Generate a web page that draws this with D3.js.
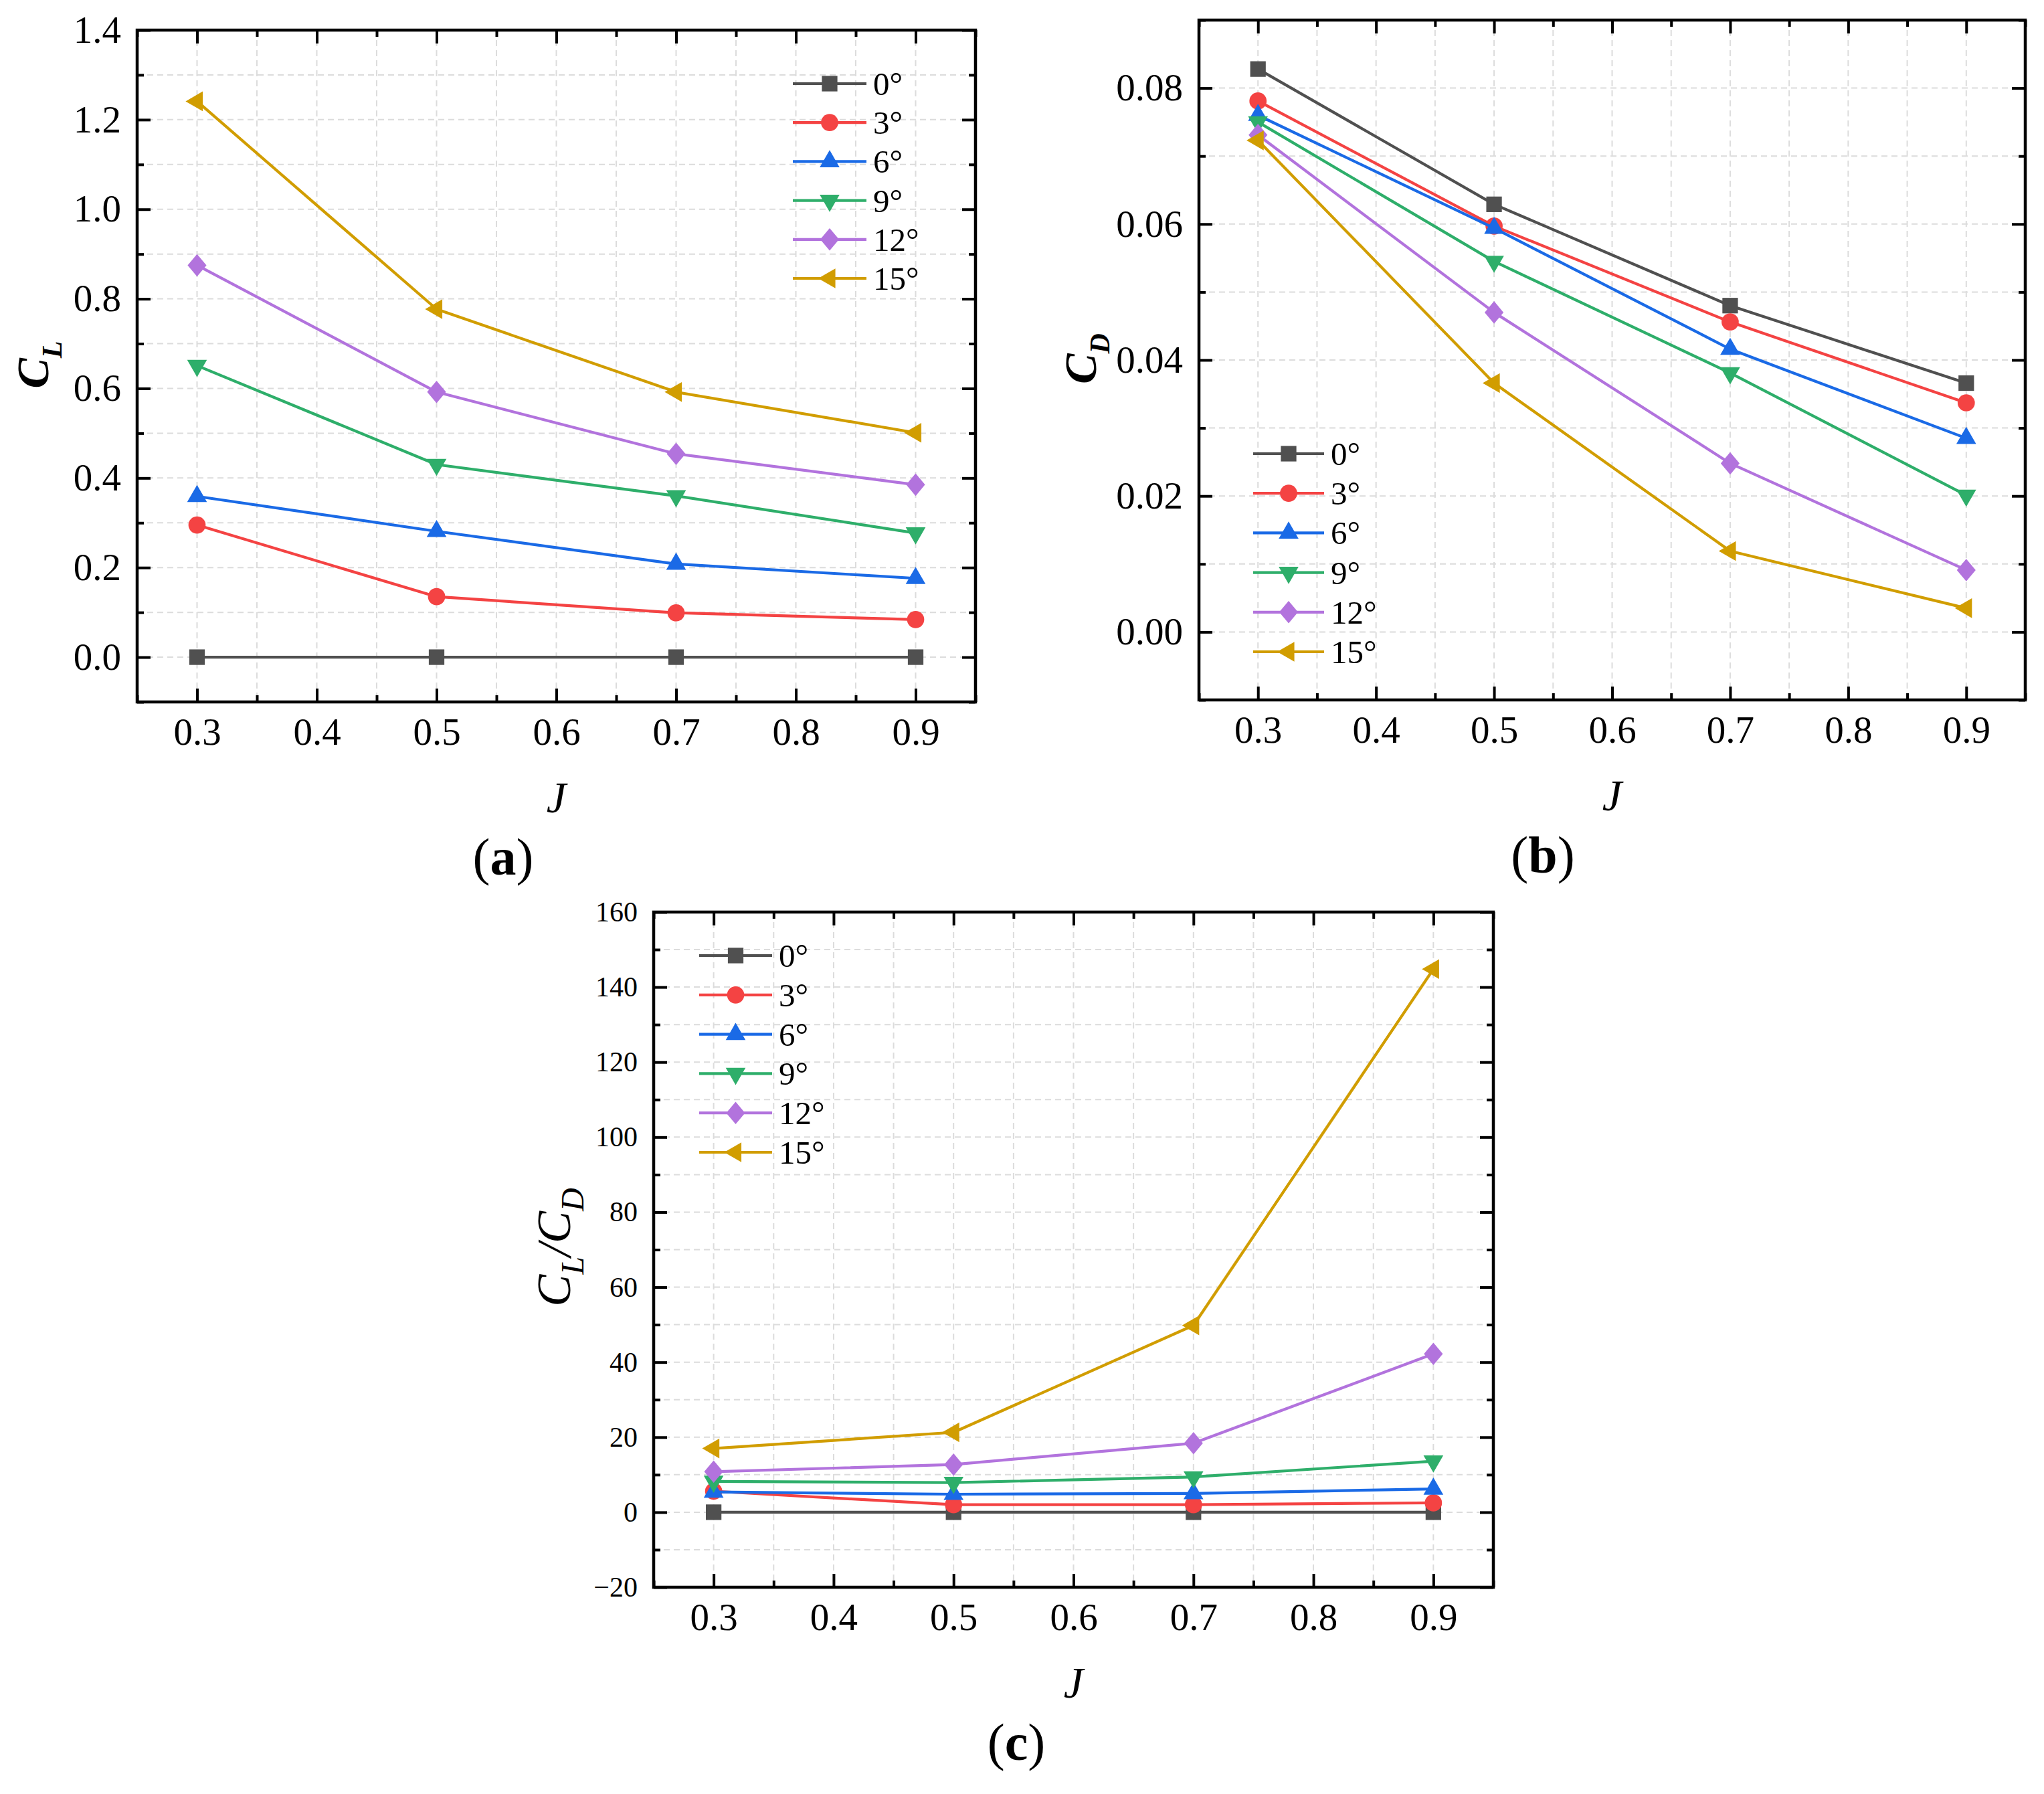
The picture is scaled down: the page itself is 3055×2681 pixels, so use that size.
<!DOCTYPE html>
<html><head><meta charset="utf-8">
<script src="https://cdn.jsdelivr.net/npm/d3@7"></script>
<style>html,body{margin:0;padding:0;background:#fff}</style>
</head><body>
<svg id="fig" width="3055" height="2681" xmlns="http://www.w3.org/2000/svg"></svg>
<script>
// ---------------- data ----------------
const J = [0.3, 0.5, 0.7, 0.9];
const angleLabels = ["0°", "3°", "6°", "9°", "12°", "15°"];
const seriesColors = ["#505050", "#F44343", "#1A6AE6", "#2EAE6A", "#B273DD", "#D19D00"];
const markerTypes = ["square", "circle", "triangleUp", "triangleDown", "diamond", "triangleLeft"];

// (a) lift coefficient C_L
const CL = [
  [0, 0, 0, 0],
  [0.295, 0.135, 0.099, 0.084],
  [0.359, 0.281, 0.208, 0.176],
  [0.651, 0.430, 0.360, 0.277],
  [0.875, 0.592, 0.454, 0.385],
  [1.241, 0.777, 0.592, 0.501]
];
// (b) drag coefficient C_D
const CD = [
  [0.0828, 0.0629, 0.0480, 0.0366],
  [0.0781, 0.0597, 0.0456, 0.0337],
  [0.0760, 0.0594, 0.0416, 0.0285],
  [0.0750, 0.0545, 0.0381, 0.0201],
  [0.0731, 0.0470, 0.0248, 0.0091],
  [0.0723, 0.0366, 0.0119, 0.0035]
];
// (c) lift-to-drag ratio C_L/C_D
const CLCD = [
  [0, 0, 0, 0],
  [5.6, 2.0, 2.0, 2.5],
  [5.4, 4.8, 5.0, 6.2],
  [8.2, 7.9, 9.4, 13.6],
  [10.8, 12.7, 18.4, 42.2],
  [17.0, 21.3, 49.8, 144.8]
];

const xMajorTicks = [0.3, 0.4, 0.5, 0.6, 0.7, 0.8, 0.9];
const xMinorTicks = [0.25, 0.35, 0.45, 0.55, 0.65, 0.75, 0.85, 0.95];
const clMajorTicks = [0.0, 0.2, 0.4, 0.6, 0.8, 1.0, 1.2, 1.4];
const clMinorTicks = [-0.1, 0.1, 0.3, 0.5, 0.7, 0.9, 1.1, 1.3];
const cdMajorTicks = [0.00, 0.02, 0.04, 0.06, 0.08];
const cdMinorTicks = [-0.01, 0.01, 0.03, 0.05, 0.07, 0.09];
const ratioMajorTicks = [-20, 0, 20, 40, 60, 80, 100, 120, 140, 160];
const ratioMinorTicks = [-10, 10, 30, 50, 70, 90, 110, 130, 150];

// ---------------- drawing ----------------
const SERIF = "'Liberation Serif','Times New Roman',Times,serif";
const svg = d3.select("#fig");
svg.append("rect").attr("width", 3055).attr("height", 2681).attr("fill", "#fff");

const diamondType = {
  draw(ctx, size) {
    const h = Math.sqrt(size) * 0.6, w = h * 0.84;
    ctx.moveTo(0, -h); ctx.lineTo(w, 0); ctx.lineTo(0, h); ctx.lineTo(-w, 0); ctx.closePath();
  }
};
function markerPath(type) {
  switch (type) {
    case "square": return {d: d3.symbol(d3.symbolSquare, 540)(), rot: 0};
    case "circle": return {d: d3.symbol(d3.symbolCircle, 520)(), rot: 0};
    case "triangleUp": return {d: d3.symbol(d3.symbolTriangle, 380)(), rot: 0};
    case "triangleDown": return {d: d3.symbol(d3.symbolTriangle, 380)(), rot: 180};
    case "diamond": return {d: d3.symbol(diamondType, 780)(), rot: 0};
    case "triangleLeft": return {d: d3.symbol(d3.symbolTriangle, 380)(), rot: -90};
  }
}

function panel(cfg) {
  const g = svg.append("g");
  const x = d3.scaleLinear().domain([0.25, 0.95]).range([cfg.left, cfg.right]);
  const y = d3.scaleLinear().domain(cfg.yDomain).range([cfg.bottom, cfg.top]);

  // grid (dashed, at major and minor ticks)
  const grid = g.append("g").attr("stroke", "#dcdcdc").attr("stroke-width", 2).attr("stroke-dasharray", "9,6");
  grid.selectAll("line.vx").data(xMajorTicks.concat(xMinorTicks).filter(d => d > 0.26 && d < 0.94))
    .join("line").attr("x1", d => x(d)).attr("x2", d => x(d)).attr("y1", cfg.top).attr("y2", cfg.bottom);
  grid.selectAll("line.hy").data(cfg.yMajor.concat(cfg.yMinor).filter(d => y(d) > cfg.top + 2 && y(d) < cfg.bottom - 2))
    .join("line").attr("y1", d => y(d)).attr("y2", d => y(d)).attr("x1", cfg.left).attr("x2", cfg.right);

  function styleAxis(sel, fontSize) {
    sel.select(".domain").remove();
    sel.attr("font-family", SERIF).attr("font-size", fontSize);
    sel.selectAll("line").attr("stroke", "#000").attr("stroke-width", 4);
    sel.selectAll("text").attr("fill", "#000");
  }
  // bottom
  g.append("g").attr("transform", `translate(0,${cfg.bottom})`)
    .call(d3.axisBottom(x).tickValues(xMajorTicks).tickSize(-20).tickPadding(24).tickFormat(d3.format(".1f")))
    .call(s => styleAxis(s, 57));
  g.append("g").attr("transform", `translate(0,${cfg.bottom})`)
    .call(d3.axisBottom(x).tickValues(xMinorTicks).tickSize(-10).tickFormat(""))
    .call(s => styleAxis(s, 57));
  // top mirror
  g.append("g").attr("transform", `translate(0,${cfg.top})`)
    .call(d3.axisTop(x).tickValues(xMajorTicks).tickSize(-20).tickFormat(""))
    .call(s => styleAxis(s, 57));
  g.append("g").attr("transform", `translate(0,${cfg.top})`)
    .call(d3.axisTop(x).tickValues(xMinorTicks).tickSize(-10).tickFormat(""))
    .call(s => styleAxis(s, 57));
  // left
  g.append("g").attr("transform", `translate(${cfg.left},0)`)
    .call(d3.axisLeft(y).tickValues(cfg.yMajor).tickSize(-20).tickPadding(24).tickFormat(cfg.yFormat))
    .call(s => styleAxis(s, cfg.yFont));
  g.append("g").attr("transform", `translate(${cfg.left},0)`)
    .call(d3.axisLeft(y).tickValues(cfg.yMinor).tickSize(-10).tickFormat(""))
    .call(s => styleAxis(s, cfg.yFont));
  // right mirror
  g.append("g").attr("transform", `translate(${cfg.right},0)`)
    .call(d3.axisRight(y).tickValues(cfg.yMajor).tickSize(-20).tickFormat(""))
    .call(s => styleAxis(s, cfg.yFont));
  g.append("g").attr("transform", `translate(${cfg.right},0)`)
    .call(d3.axisRight(y).tickValues(cfg.yMinor).tickSize(-10).tickFormat(""))
    .call(s => styleAxis(s, cfg.yFont));

  // frame
  g.append("rect").attr("x", cfg.left).attr("y", cfg.top)
    .attr("width", cfg.right - cfg.left).attr("height", cfg.bottom - cfg.top)
    .attr("fill", "none").attr("stroke", "#000").attr("stroke-width", 4.5);

  // series
  const line = d3.line().x((d, i) => x(J[i])).y(d => y(d));
  cfg.data.forEach((vals, s) => {
    const sg = g.append("g");
    sg.append("path").attr("d", line(vals)).attr("fill", "none")
      .attr("stroke", seriesColors[s]).attr("stroke-width", 4.2).attr("stroke-linejoin", "round");
    const m = markerPath(markerTypes[s]);
    sg.selectAll("path.mk").data(vals).join("path").attr("class", "mk")
      .attr("d", m.d)
      .attr("transform", (d, i) => `translate(${x(J[i])},${y(d)}) rotate(${m.rot})`)
      .attr("fill", seriesColors[s]);
  });

  // legend
  const lg = g.append("g");
  angleLabels.forEach((lab, s) => {
    const ry = cfg.legend.y0 + s * cfg.legend.dy;
    lg.append("line").attr("x1", cfg.legend.x1).attr("x2", cfg.legend.x2)
      .attr("y1", ry).attr("y2", ry).attr("stroke", seriesColors[s]).attr("stroke-width", 4.2);
    const m = markerPath(markerTypes[s]);
    lg.append("path").attr("d", m.d)
      .attr("transform", `translate(${(cfg.legend.x1 + cfg.legend.x2) / 2},${ry}) rotate(${m.rot})`)
      .attr("fill", seriesColors[s]);
    lg.append("text").attr("x", cfg.legend.x2 + 10).attr("y", ry + 17)
      .attr("font-family", SERIF).attr("font-size", 49).attr("fill", "#000").text(lab);
  });

  // y label (rotated, with subscripts)
  const yl = g.append("text")
    .attr("transform", `translate(${cfg.ylab.x},${cfg.ylab.y}) rotate(-90)`)
    .attr("text-anchor", "middle").attr("font-family", SERIF)
    .attr("font-size", cfg.ylab.size).attr("font-style", "italic")
    .attr("font-weight", cfg.ylab.bold ? "bold" : "normal").attr("fill", "#000");
  cfg.ylab.parts.forEach(p => {
    const t = yl.append("tspan").text(p.t);
    if (p.sub) t.attr("font-size", cfg.ylab.subSize).attr("dy", cfg.ylab.shift);
    if (p.back) t.attr("dy", -cfg.ylab.shift);
  });

  // x label
  g.append("text").attr("x", (cfg.left + cfg.right) / 2).attr("y", cfg.bottom + 165)
    .attr("text-anchor", "middle").attr("font-family", SERIF).attr("font-size", 66)
    .attr("font-style", "italic").attr("fill", "#000").text("J");

  // panel label
  const pl = g.append("text").attr("x", cfg.tag.x).attr("y", cfg.bottom + 258)
    .attr("text-anchor", "middle").attr("font-family", SERIF).attr("font-size", 78).attr("fill", "#000");
  pl.append("tspan").text("(");
  pl.append("tspan").attr("font-weight", "bold").text(cfg.tag.t);
  pl.append("tspan").text(")");
}

panel({
  left: 205, right: 1458, top: 45, bottom: 1049,
  yDomain: [-0.1, 1.4], yMajor: clMajorTicks, yMinor: clMinorTicks,
  yFormat: d3.format(".1f"), yFont: 57, data: CL,
  legend: {x1: 1185, x2: 1295, y0: 125, dy: 58.2},
  ylab: {x: 72, y: 545, size: 68, subSize: 42, shift: 20, bold: true,
         parts: [{t: "C"}, {t: "L", sub: true}]},
  tag: {x: 752, t: "a"}
});

panel({
  left: 1792, right: 3027, top: 30, bottom: 1046,
  yDomain: [-0.01, 0.09], yMajor: cdMajorTicks, yMinor: cdMinorTicks,
  yFormat: d3.format(".2f"), yFont: 57, data: CD,
  legend: {x1: 1873, x2: 1979, y0: 678, dy: 59.2},
  ylab: {x: 1638, y: 536, size: 68, subSize: 42, shift: 20, bold: true,
         parts: [{t: "C"}, {t: "D", sub: true}]},
  tag: {x: 2306, t: "b"}
});

panel({
  left: 977, right: 2232, top: 1363, bottom: 2372,
  yDomain: [-20, 160], yMajor: ratioMajorTicks, yMinor: ratioMinorTicks,
  yFormat: d => (d < 0 ? "\u2212" + Math.abs(d) : String(d)), yFont: 42, data: CLCD,
  legend: {x1: 1045, x2: 1154, y0: 1428, dy: 58.8},
  ylab: {x: 852, y: 1864, size: 72, subSize: 48, shift: 20, bold: false,
         parts: [{t: "C"}, {t: "L", sub: true}, {t: "/", back: true}, {t: "C"}, {t: "D", sub: true}]},
  tag: {x: 1519, t: "c"}
});
</script>
</body></html>
